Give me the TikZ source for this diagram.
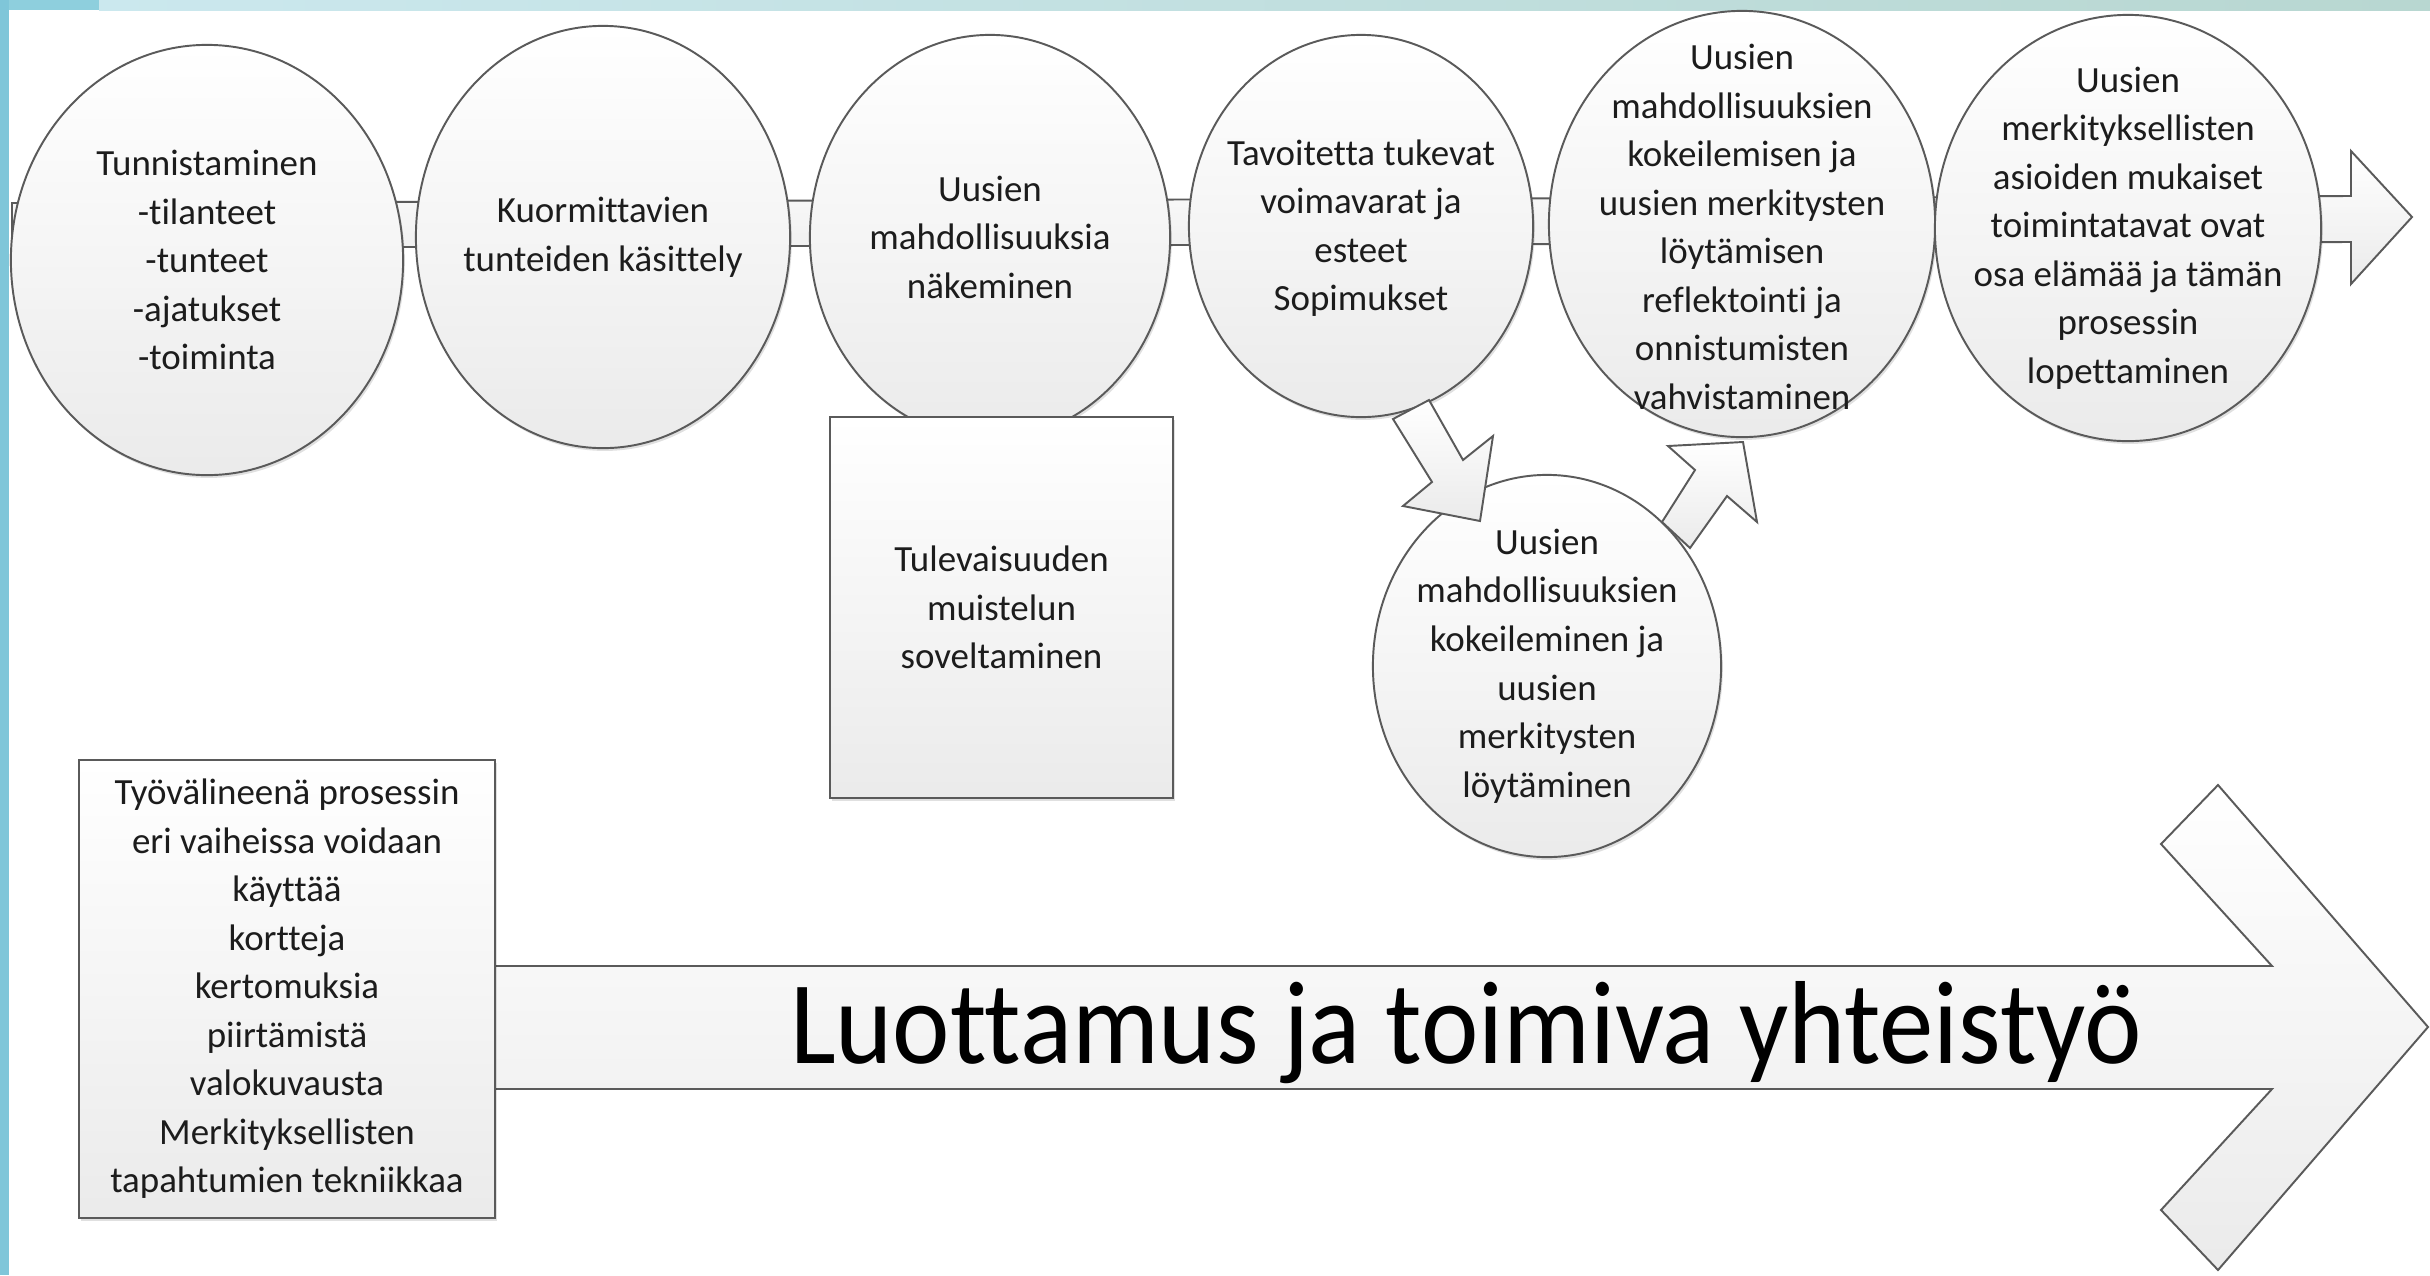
\documentclass[tikz,border=0pt]{standalone}
\usepackage{fontspec}
\setmainfont{Carlito}[Ligatures=NoCommon]
\newfontfamily\bigfont{Carlito}[FakeStretch=0.92, Ligatures=NoCommon]
\usetikzlibrary{shapes.geometric,shadows}
\definecolor{stripcol}{HTML}{7FC6D9}
\definecolor{cornercol}{HTML}{8ECFDD}
\definecolor{bandL}{HTML}{CBE8EE}
\definecolor{bandR}{HTML}{B8D7D1}
\definecolor{edgecol}{HTML}{5A5A5A}
\definecolor{txtcol}{HTML}{1C1C1C}
\tikzset{
  shapefill/.style={draw=edgecol, line width=0.55pt, top color=white, bottom color=black!8},
  softshadow/.style={drop shadow={shadow xshift=0.5pt, shadow yshift=-0.8pt, opacity=0.12, fill=black}},
  bubble/.style={ellipse, shapefill, softshadow, inner sep=0pt},
  boxshape/.style={rectangle, shapefill, softshadow, inner sep=0pt},
  bubbletext/.style={align=center, text=txtcol, font=\fontsize{10.5}{13.8}\selectfont, inner sep=0pt},
  blockarrow/.style={shapefill, line join=miter},
}
\begin{document}
\begin{tikzpicture}[x=0.01cm,y=-0.01cm]
\useasboundingbox (0,0) rectangle (2430,1275);
\fill[white] (0,0) rectangle (2430,1275);
% frame decoration
\shade[left color=bandL, right color=bandR] (99,0) rectangle (2430,10);
\fill[cornercol] (0,0) rectangle (99,10);
\fill[stripcol] (0,0) rectangle (9,1275);

% long arrow behind the top row
\path[blockarrow] (12,203) -- (2351,196) -- (2351,151) -- (2412,217) -- (2351,284) -- (2351,242) -- (12,248) -- cycle;

% top row
\node[bubble, minimum width=3.92cm, minimum height=4.30cm] (c1) at (207,260) {};
\node[bubbletext] (t1) at (c1.center) {Tunnistaminen\\-tilanteet\\-tunteet\\-ajatukset\\-toiminta};

\node[bubble, minimum width=3.74cm, minimum height=4.22cm] (c2) at (603,237) {};
\node[bubbletext] (t2) at (c2.center) {Kuormittavien\\tunteiden käsittely};

\node[bubble, minimum width=3.60cm, minimum height=4.04cm] (c3) at (990,237) {};
\node[bubbletext] (t3) at (c3.center) {Uusien\\mahdollisuuksia\\näkeminen};

\node[bubble, minimum width=3.44cm, minimum height=3.82cm] (c4) at (1361,226) {};
\node[bubbletext] (t4) at (1361,228) {Tavoitetta tukevat\\voimavarat ja\\esteet\\Sopimukset};

\node[bubble, minimum width=3.86cm, minimum height=4.26cm] (c5) at (1742,224) {};

\node[bubble, minimum width=3.86cm, minimum height=4.26cm] (c6) at (2128,228) {};
\node[bubbletext] (t6) at (c6.center) {Uusien\\merkityksellisten\\asioiden mukaiset\\toimintatavat ovat\\osa elämää ja tämän\\prosessin\\lopettaminen};

\node[bubbletext] (t5) at (1742,227) {Uusien\\mahdollisuuksien\\kokeilemisen ja\\uusien merkitysten\\löytämisen\\reflektointi ja\\onnistumisten\\vahvistaminen};

% box under circle 3
\node[boxshape, minimum width=3.43cm, minimum height=3.81cm] (r3) at (1001.5,607.5) {};
\node[bubbletext] (tr3) at (r3.center) {Tulevaisuuden\\muistelun\\soveltaminen};

% lower circle
\node[bubble, minimum width=3.48cm, minimum height=3.82cm] (c7) at (1547,666) {};
\node[bubbletext] (t7) at (c7.center) {Uusien\\mahdollisuuksien\\kokeileminen ja\\uusien\\merkitysten\\löytäminen};

% block arrows c4 -> c7 and c7 -> c5
\path[blockarrow] (1393,419) -- (1429,400) -- (1463,460) -- (1493,436) -- (1480,521) -- (1403,506) -- (1432,482) -- cycle;
\path[blockarrow] (1662,522) -- (1690,548) -- (1727,496) -- (1757,522) -- (1743,442) -- (1668,446) -- (1695,470) -- cycle;

% big bottom arrow
\path[blockarrow] (480,966) -- (2272,966) -- (2161,844) -- (2218,785) -- (2428,1027) -- (2218,1270) -- (2161,1210) -- (2272,1089) -- (480,1089) -- cycle;
\node[anchor=base, inner sep=0pt, text=black, font=\bigfont\fontsize{33.6}{40}\selectfont] (big) at (1466,1063) {Luottamus ja toimiva yhteistyö};

% tools box
\node[boxshape, minimum width=4.16cm, minimum height=4.58cm] (rb) at (287,989) {};
\node[bubbletext] (trb) at (rb.center) {Työvälineenä prosessin\\eri vaiheissa voidaan\\käyttää\\kortteja\\kertomuksia\\piirtämistä\\valokuvausta\\Merkityksellisten\\tapahtumien tekniikkaa};
\end{tikzpicture}
\end{document}
